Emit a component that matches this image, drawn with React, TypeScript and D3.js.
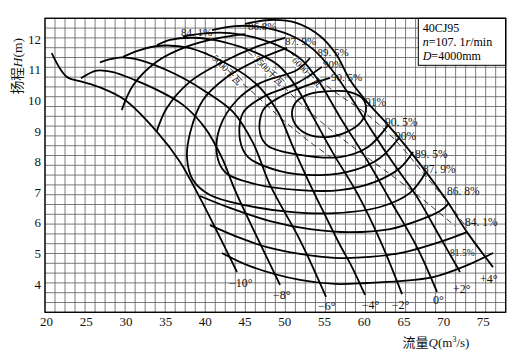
import React from "react";
import * as d3 from "d3";

type Pt = [number, number];

// axis ticks
const xTicks = [20, 25, 30, 35, 40, 45, 50, 55, 60, 65, 70, 75];
const yTicks = [4, 5, 6, 7, 8, 9, 10, 11, 12];

// blade angle H-Q curves, [Q (m3/s), H (m)]
const angleM10: Pt[] = [[20.84, 11.54], [22.73, 10.77], [24.62, 10.61], [26.92, 10.42], [30.07, 10.01], [34.1, 8.97], [37.0, 7.99], [39.64, 6.75], [44.17, 4.4]];
const angleM8: Pt[] = [[24.53, 10.72], [26.51, 10.97], [28.56, 10.92], [31.33, 10.66], [34.1, 10.34], [37.37, 9.85], [40.14, 9.1], [42.28, 8.12], [43.92, 7.07], [46.69, 5.54], [49.59, 3.98]];
const angleM6: Pt[] = [[26.92, 11.24], [28.18, 11.34], [29.69, 11.4], [31.96, 11.31], [36.12, 10.89], [39.89, 10.34], [43.67, 9.62], [46.19, 8.61], [48.33, 7.24], [52.1, 5.44], [55.38, 3.59]];
const angleM4: Pt[] = [[29.82, 11.42], [31.96, 11.64], [34.48, 11.78], [38.26, 11.7], [42.41, 11.26], [45.18, 10.83], [47.32, 10.34], [49.33, 9.62], [51.22, 8.48], [53.11, 7.4], [55.25, 6.26], [57.14, 5.28], [58.65, 4.56], [60.29, 3.65]];
const angleM2: Pt[] = [[34.1, 11.8], [35.74, 11.97], [38.63, 12.04], [42.41, 11.91], [46.69, 11.54], [49.33, 11.15], [51.48, 10.5], [53.74, 9.46], [56.39, 8.22], [59.28, 6.98], [62.18, 5.44], [64.95, 3.68]];
const angle0: Pt[] = [[37.37, 12.08], [40.4, 12.19], [43.29, 12.19], [46.69, 12.03], [49.96, 11.71], [52.36, 11.31], [54.37, 10.66], [57.14, 9.45], [60.54, 8.05], [63.44, 6.75], [66.83, 5.21], [69.35, 3.75]];
const angleP2: Pt[] = [[41.03, 12.29], [43.92, 12.42], [47.32, 12.39], [50.85, 12.13], [53.74, 11.67], [56.13, 10.99], [58.4, 10.14], [60.92, 9.1], [63.81, 7.96], [66.83, 6.85], [69.73, 5.54], [72.25, 4.4]];
const angleP4: Pt[] = [[45.18, 12.49], [48.33, 12.62], [51.73, 12.52], [54.62, 12.1], [56.64, 11.51], [58.4, 10.66], [60.42, 9.98], [63.06, 9.23], [66.83, 8.05], [70.36, 6.81], [73.13, 5.7], [76.4, 4.56]];

const angleCurves = [angleM10, angleM8, angleM6, angleM4, angleM2, angle0, angleP2, angleP4];
const angleNames = ["−10°", "−8°", "−6°", "−4°", "−2°", "0°", "+2°", "+4°"];
const angleLabelQ = [43.17, 48.71, 54.37, 59.87, 63.65, 68.85, 71.37, 74.77];
const angleLabelH = [3.91, 3.52, 3.16, 3.19, 3.19, 3.36, 3.71, 4.04];

// efficiency contours
const eff815: Pt[] = [[42.28, 5.02], [45.81, 4.59], [52.1, 4.14], [56.51, 4.01], [60.54, 4.04], [64.69, 4.1], [68.85, 4.23], [72.88, 4.59], [76.4, 5.02]];
const eff841Upper: Pt[] = [[29.66, 9.68], [31.12, 10.5], [34.06, 11.26], [37.84, 11.75], [41.62, 12.02], [45.18, 12.16]];
const eff841Lower: Pt[] = [[40.77, 5.93], [44.55, 5.51], [47.95, 5.21], [52.1, 4.99], [56.51, 4.86], [60.92, 4.89], [65.32, 5.05], [69.73, 5.38], [73.13, 5.7]];
const eff868Upper: Pt[] = [[34.06, 8.98], [35.32, 9.74], [38.26, 10.61], [42.45, 11.26], [46.65, 11.75], [50.22, 12.04]];
const eff868Lower: Pt[] = [[39.51, 6.88], [43.29, 6.49], [48.33, 6.06], [53.36, 5.8], [58.4, 5.7], [63.44, 5.8], [67.21, 6.1], [69.73, 6.39], [70.87, 6.65]];
const eff879: Pt[] = [[50.47, 11.71], [46.69, 11.31], [42.91, 10.76], [39.89, 10.01], [38.26, 8.93], [37.88, 8.12], [38.63, 7.4], [40.77, 6.91], [45.18, 6.58], [50.85, 6.36], [56.51, 6.32], [62.18, 6.52], [65.95, 6.98], [67.97, 7.66]];
const eff895: Pt[] = [[53.36, 11.38], [51.73, 10.99], [47.07, 10.56], [44.17, 10.01], [42.03, 9.13], [41.65, 8.22], [42.66, 7.66], [46.44, 7.27], [52.1, 7.07], [57.14, 7.07], [61.55, 7.34], [64.69, 7.79], [66.33, 8.31]];
const eff90: Pt[] = [[54.87, 11.09], [51.73, 10.56], [47.45, 10.11], [44.93, 9.59], [44.55, 8.71], [45.56, 8.15], [49.59, 7.69], [54.62, 7.56], [59.03, 7.73], [62.18, 8.12], [64.57, 8.77]];
const eff905: Pt[] = [[55.88, 10.73], [52.1, 10.4], [49.59, 10.11], [47.45, 9.68], [47.07, 8.93], [48.08, 8.51], [52.1, 8.22], [57.14, 8.15], [60.67, 8.48], [63.19, 9.19]];
const eff91: Pt[] = [[51.1, 9.62], [51.73, 9.98], [53.36, 10.21], [55.88, 10.3], [58.4, 10.27], [59.91, 10.08], [60.42, 9.75], [59.78, 9.29], [58.02, 8.97], [55.5, 8.8], [52.99, 8.9], [51.48, 9.23]];

const effOpen = [eff815, eff841Upper, eff841Lower, eff868Upper, eff868Lower, eff879, eff895, eff90, eff905];

// efficiency labels on the right side
const effRightNames = ["91%", "90. 5%", "90%", "89. 5%", "87. 9%", "86. 8%", "84. 1%"];
const effRightQ = [60.29, 62.81, 64.07, 66.58, 67.59, 70.61, 72.88];
const effRightH = [9.81, 9.16, 8.71, 8.11, 7.64, 6.91, 5.9];
// efficiency labels on top
const effTopNames = ["84. 1%", "86.8%", "87. 9%", "89. 5%", "90%", "90. 5%"];
const effTopQ = [37.12, 45.56, 50.22, 54.3, 55.0, 56.0];
const effTopH = [12.1, 12.29, 11.79, 11.46, 11.05, 10.63];

// shaft power lines (kW)
const power5000: Pt[] = [[40.14, 11.58], [42.91, 10.99], [45.81, 10.34], [49.96, 9.36], [53.36, 8.64], [56.13, 8.12]];
const power5500: Pt[] = [[45.56, 11.58], [48.2, 10.96], [51.1, 10.17], [55.25, 9.19], [59.66, 8.31], [64.06, 7.47], [68.47, 6.58], [71.62, 5.9]];
const power6000: Pt[] = [[50.85, 11.58], [53.36, 10.92], [56.51, 10.27], [60.29, 9.59], [64.06, 8.71], [67.84, 7.56], [70.99, 6.58], [73.13, 5.83]];
const powerLines = [power5000, power5500, power6000];
const powerNames = ["5000千瓦", "5500千瓦", "6000千瓦"];
const powerLabelQ = [42.91, 48.2, 53.0];
const powerLabelH = [10.99, 10.96, 10.92];

const FONT = "'Liberation Serif', 'DejaVu Serif', 'Noto Sans CJK SC', serif";

export default function App() {
  const x = d3.scaleLinear().domain([20, 78]).range([45, 505.7]);
  const y = d3.scaleLinear().domain([3.085, 12.675]).range([312.3, 18.3]);

  const line = d3
    .line<Pt>()
    .x((d) => x(d[0]))
    .y((d) => y(d[1]))
    .curve(d3.curveCatmullRom.alpha(0.5));
  const loop = d3
    .line<Pt>()
    .x((d) => x(d[0]))
    .y((d) => y(d[1]))
    .curve(d3.curveCatmullRomClosed.alpha(0.5));

  const vGrid = d3.range(47).map((i) => 20 + (i * 58) / 46);
  const hGrid = d3.range(31).map((i) => 3.085 + (i * 9.59) / 30);
  const [x0, x1] = x.range();
  const [y0, y1] = y.range();

  return (
    <svg
      width={529}
      height={361}
      style={{ position: "absolute", left: 0, top: 0 }}
      fontFamily={FONT}
    >
      <rect width={529} height={361} fill="#fff" />

      {/* grid */}
      <g stroke="#666" strokeWidth={0.85}>
        {vGrid.map((v, i) => (
          <line key={"v" + i} x1={x(v)} x2={x(v)} y1={y0} y2={y1} />
        ))}
        {hGrid.map((h, i) => (
          <line key={"h" + i} x1={x0} x2={x1} y1={y(h)} y2={y(h)} />
        ))}
      </g>

      {/* power lines */}
      <g fill="none" stroke="#222" strokeWidth={0.9} strokeDasharray="6,4">
        {powerLines.map((p, i) => (
          <path key={i} d={line(p) || ""} />
        ))}
      </g>
      {powerNames.map((n, i) => (
        <text
          key={n}
          transform={`translate(${x(powerLabelQ[i])},${y(powerLabelH[i])}) rotate(46)`}
          textAnchor="middle"
          dy="0.35em"
          fontSize={9.5}
          fill="#111"
          stroke="#fff"
          strokeWidth={3}
          paintOrder="stroke"
        >
          {n}
        </text>
      ))}

      {/* blade angle curves */}
      <g fill="none" stroke="#000" strokeWidth={1.8}>
        {angleCurves.map((c, i) => (
          <path key={i} d={line(c) || ""} />
        ))}
      </g>

      {/* efficiency contours */}
      <g fill="none" stroke="#000" strokeWidth={1.8}>
        {effOpen.map((c, i) => (
          <path key={i} d={line(c) || ""} />
        ))}
        <path d={loop(eff91) || ""} />
      </g>

      {/* labels */}
      <g fontSize={12} fill="#111">
        {angleNames.map((n, i) => (
          <text key={n} x={x(angleLabelQ[i])} y={y(angleLabelH[i])}>
            {n}
          </text>
        ))}
      </g>
      <g fontSize={11.5} fill="#111">
        {effRightNames.map((n, i) => (
          <text key={"r" + i} x={x(effRightQ[i])} y={y(effRightH[i])}>
            {n}
          </text>
        ))}
      </g>
      <g fontSize={11} fill="#111">
        {effTopNames.map((n, i) => (
          <text key={"t" + i} x={x(effTopQ[i])} y={y(effTopH[i])}>
            {n}
          </text>
        ))}
      </g>
      <text x={x(70.99)} y={y(4.92)} fontSize={9.5} fill="#222">
        81.5%
      </text>

      {/* info box */}
      <rect x={418.3} y={y1} width={x1 - 418.3} height={47} fill="#fff" stroke="#000" strokeWidth={1} />
      <g fontSize={12} fill="#000">
        <text x={422.7} y={32}>40CJ95</text>
        <text x={422.7} y={46}>
          <tspan fontStyle="italic">n</tspan>=107. 1<tspan fontStyle="italic">r</tspan>/min
        </text>
        <text x={422.7} y={60}>
          <tspan fontStyle="italic">D</tspan>=4000mm
        </text>
      </g>

      {/* frame */}
      <rect x={x0} y={y1} width={x1 - x0} height={y0 - y1} fill="none" stroke="#000" strokeWidth={1.3} />

      {/* axes */}
      <g fontSize={13} fill="#111">
        {xTicks.map((t) => (
          <text key={t} x={x(t) + 1.5} y={326} textAnchor="middle">
            {t}
          </text>
        ))}
        {yTicks.map((t) => (
          <text key={t} x={41} y={y(t)} dy="0.35em" textAnchor="end">
            {t}
          </text>
        ))}
      </g>
      <text x={436} y={347} textAnchor="middle" fontSize={13} fill="#111">
        流量<tspan fontStyle="italic">Q</tspan>(m<tspan fontSize={8} dy={-5}>3</tspan>
        <tspan dy={5}>/s)</tspan>
      </text>
      <text
        transform={`translate(22,66) rotate(-90)`}
        textAnchor="middle"
        fontSize={13.5}
        fill="#111"
      >
        扬程<tspan fontStyle="italic">H</tspan>(m)
      </text>
    </svg>
  );
}
